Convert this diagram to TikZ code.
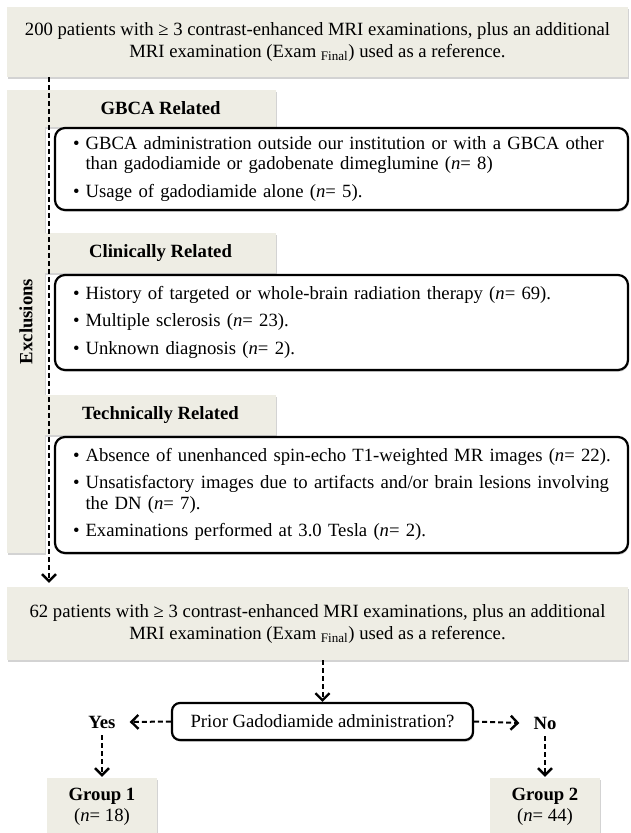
\documentclass[tikz,border=0pt]{standalone}
\usepackage{fontspec}
\setmainfont{Liberation Serif}
\usetikzlibrary{arrows.meta,shadows,positioning}
\definecolor{boxgray}{RGB}{238,237,228}
\newcommand{\flowfont}{\fontsize{18.7}{20.5}\selectfont}
\tikzset{
  greybox/.style={fill=boxgray,inner sep=0pt,
    drop shadow={shadow xshift=0.8pt,shadow yshift=-1.8pt,opacity=0.35}},
  roundbox/.style={draw=black,line width=2.2pt,rounded corners=10pt,fill=white,
    drop shadow={shadow xshift=0.8pt,shadow yshift=-1.8pt,opacity=0.35}},
  itembox/.style={roundbox,inner xsep=18pt,inner ysep=0pt,text width=537pt,
    align=left,minimum width=573pt},
  header/.style={greybox,minimum width=231pt,font=\flowfont\bfseries},
  answer/.style={inner xsep=14pt,inner ysep=7pt,font=\flowfont\bfseries},
  flow/.style={dash pattern=on 5pt off 3pt,line width=2pt,
    -{Straight Barb[length=7pt,width=14pt,line width=2.4pt]}},
}
\begin{document}
\begin{tikzpicture}[x=1pt,y=-1pt,every node/.style={font=\flowfont}]
\useasboundingbox (0,0) rectangle (631,833);
\node[greybox,minimum width=621pt,minimum height=70pt,align=center,
  font=\fontsize{18.7}{22}\selectfont] (top) at (317.5,42)
  {200 patients with ≥ 3 contrast-enhanced MRI examinations, plus an additional\\
   MRI examination (Exam~\textsubscript{Final}) used as a reference.};
\node[greybox,minimum width=38pt,minimum height=463pt] (excl) at (26,321.5)
  {\rotatebox{90}{\bfseries Exclusions}};
\node[header,minimum height=37pt] (gbca) at (160.5,108.5) {GBCA Related};
\node[header,minimum height=40pt] (clin) at (160.5,253) {Clinically Related};
\node[header,minimum height=40pt] (tech) at (160.5,415) {Technically Related};
\coordinate (trunk) at (49,0);
\node[greybox,minimum width=621pt,minimum height=73pt,align=center,
  font=\fontsize{18.7}{22}\selectfont] (bot) at (317.5,623.5)
  {62 patients with ≥ 3 contrast-enhanced MRI examinations, plus an additional\\
   MRI examination (Exam~\textsubscript{Final}) used as a reference.};
\draw[flow,shorten >=4pt] (top.south -| trunk) -- (bot.north -| trunk);
\node[itembox,minimum height=82pt] (itemsA) at (341.5,169)
  {\begin{tabular}{@{}l@{\hspace{6pt}}l@{}}
   \textbullet & GBCA administration outside our institution or with a GBCA other\\
   & than gadodiamide or gadobenate dimeglumine (\textit{n}= 8)\\[7pt]
   \textbullet & Usage of gadodiamide alone (\textit{n}= 5).
   \end{tabular}};
\node[itembox,minimum height=95pt] (itemsB) at (341.5,322.5)
  {\begin{tabular}{@{}l@{\hspace{6pt}}l@{}}
   \textbullet & History of targeted or whole-brain radiation therapy (\textit{n}= 69).\\[7pt]
   \textbullet & Multiple sclerosis (\textit{n}= 23).\\[7pt]
   \textbullet & Unknown diagnosis (\textit{n}= 2).
   \end{tabular}};
\node[itembox,minimum height=116pt] (itemsC) at (341.5,495)
  {\begin{tabular}{@{}l@{\hspace{6pt}}l@{}}
   \textbullet & Absence of unenhanced spin-echo T1-weighted MR images (\textit{n}= 22).\\[7pt]
   \textbullet & Unsatisfactory images due to artifacts and/or brain lesions involving\\
   & the DN (\textit{n}= 7).\\[7pt]
   \textbullet & Examinations performed at 3.0 Tesla (\textit{n}= 2).
   \end{tabular}};
\node[roundbox,rounded corners=8pt,minimum width=301pt,minimum height=37pt,inner sep=0pt]
  (quest) at (322.5,721.5) {Prior Gadodiamide administration?};
\node[answer] (yes) at (102,722) {Yes};
\node[answer] (no) at (545,723) {No};
\node[greybox,minimum width=110pt,minimum height=57pt,align=center,
  font=\fontsize{18.7}{21}\selectfont] (grp1) at (102,806.5)
  {\textbf{Group 1}\\(\textit{n}= 18)};
\node[greybox,minimum width=110pt,minimum height=57pt,align=center,
  font=\fontsize{18.7}{21}\selectfont] (grp2) at (545,806.5)
  {\textbf{Group 2}\\(\textit{n}= 44)};
\draw[flow] (bot.south -| quest.north) -- (quest.north);
\draw[flow] (quest.west) -- (yes.east);
\draw[flow] (quest.east) -- (no.west);
\draw[flow,shorten >=1pt] (yes.south) -- (grp1.north);
\draw[flow,shorten >=1pt] (no.south) -- (grp2.north);
\end{tikzpicture}
\end{document}
